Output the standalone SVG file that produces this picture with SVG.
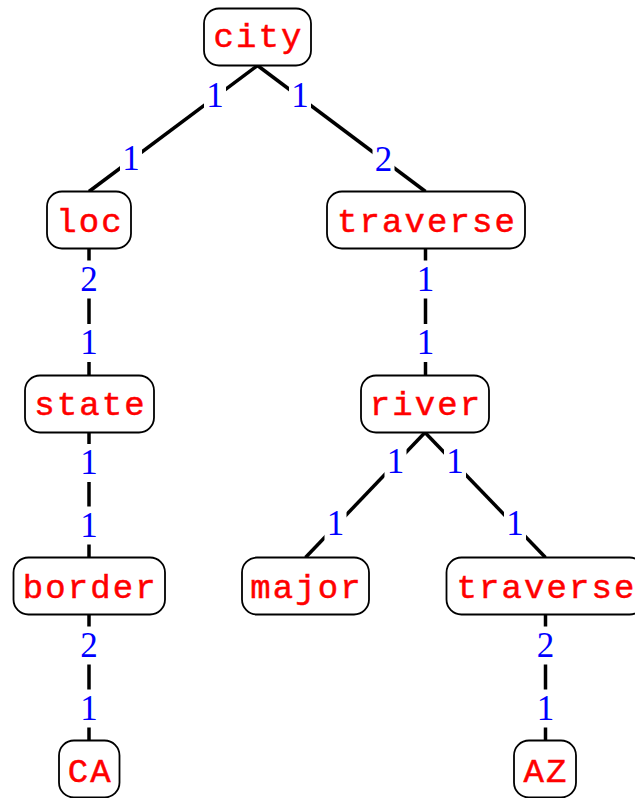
<svg xmlns="http://www.w3.org/2000/svg" width="635" height="798" viewBox="0 0 635 798">
  <style>
    .edge { stroke: #000; stroke-width: 3.5; fill: none; }
    .box { fill: #fff; stroke: #000; stroke-width: 1.8; }
    .name { font-family: "Liberation Mono", "DejaVu Sans Mono", monospace; font-size: 34px; fill: #ff0000; stroke: #ff0000; stroke-width: 0.5; text-anchor: middle; letter-spacing: 2.1px; }
    .lblbg { fill: #fff; }
    .lbl { font-family: "Liberation Serif", "DejaVu Serif", serif; font-size: 35px; fill: #0000ff; text-anchor: middle; }
  </style>
  <defs>
    <rect id="bg" class="lblbg" x="-11" y="-19" width="22" height="38"/>
  </defs>

  <!-- tree edges -->
  <g id="edges">
    <line class="edge" x1="257.5" y1="65.5" x2="89" y2="191.5"/>
    <line class="edge" x1="257.5" y1="65.5" x2="425.5" y2="191.5"/>
    <line class="edge" x1="89" y1="248.5" x2="89" y2="375.5"/>
    <line class="edge" x1="89" y1="432.5" x2="89" y2="557.5"/>
    <line class="edge" x1="89" y1="614.5" x2="89" y2="740.5"/>
    <line class="edge" x1="425.5" y1="248.5" x2="425.5" y2="375.5"/>
    <line class="edge" x1="425" y1="432.5" x2="305.5" y2="557.5"/>
    <line class="edge" x1="425" y1="432.5" x2="545.5" y2="557.5"/>
    <line class="edge" x1="545.5" y1="614.5" x2="545.5" y2="740.5"/>
  </g>

  <!-- edge labels: argument positions at each end -->
  <g id="edge-labels">
    <use href="#bg" x="215" y="96"/><text class="lbl" x="215" y="107">1</text>
    <use href="#bg" x="131" y="159"/><text class="lbl" x="131" y="170">1</text>
    <use href="#bg" x="300" y="96"/><text class="lbl" x="300" y="107">1</text>
    <use href="#bg" x="383.5" y="159"/><text class="lbl" x="383.5" y="170.5">2</text>
    <use href="#bg" x="89" y="279.5"/><text class="lbl" x="89" y="291">2</text>
    <use href="#bg" x="89" y="343"/><text class="lbl" x="89" y="354">1</text>
    <use href="#bg" x="89" y="463"/><text class="lbl" x="89" y="474">1</text>
    <use href="#bg" x="89" y="525.5"/><text class="lbl" x="89" y="536.5">1</text>
    <use href="#bg" x="89" y="645.5"/><text class="lbl" x="89" y="657">2</text>
    <use href="#bg" x="89" y="708.5"/><text class="lbl" x="89" y="719.5">1</text>
    <use href="#bg" x="425.5" y="279.5"/><text class="lbl" x="425.5" y="290.5">1</text>
    <use href="#bg" x="425.5" y="343"/><text class="lbl" x="425.5" y="354">1</text>
    <use href="#bg" x="395.5" y="461.5"/><text class="lbl" x="395.5" y="472.5">1</text>
    <use href="#bg" x="335.5" y="524"/><text class="lbl" x="335.5" y="535">1</text>
    <use href="#bg" x="455" y="461.5"/><text class="lbl" x="455" y="472.5">1</text>
    <use href="#bg" x="515" y="524"/><text class="lbl" x="515" y="535">1</text>
    <use href="#bg" x="545.5" y="645.5"/><text class="lbl" x="545.5" y="657">2</text>
    <use href="#bg" x="545.5" y="708.5"/><text class="lbl" x="545.5" y="719.5">1</text>
  </g>

  <!-- nodes -->
  <g id="city">
    <rect class="box" x="204" y="8.5" width="107" height="57" rx="15"/>
    <text class="name" x="258.5" y="47">city</text>
  </g>
  <g id="loc">
    <rect class="box" x="47" y="191.5" width="84" height="57" rx="15"/>
    <text class="name" x="90" y="231.5">loc</text>
  </g>
  <g id="traverse-1">
    <rect class="box" x="327" y="191.5" width="198" height="57" rx="15"/>
    <text class="name" x="427" y="231.5">traverse</text>
  </g>
  <g id="state">
    <rect class="box" x="25" y="375.5" width="129" height="57" rx="15"/>
    <text class="name" x="90.5" y="415">state</text>
  </g>
  <g id="river">
    <rect class="box" x="361" y="375.5" width="128" height="57" rx="15"/>
    <text class="name" x="426" y="415">river</text>
  </g>
  <g id="border">
    <rect class="box" x="13.5" y="557.5" width="151.5" height="57" rx="15"/>
    <text class="name" x="90.3" y="598">border</text>
  </g>
  <g id="major">
    <rect class="box" x="242" y="557.5" width="127" height="57" rx="15"/>
    <text class="name" x="306.5" y="598">major</text>
  </g>
  <g id="traverse-2">
    <rect class="box" x="446.5" y="557.5" width="198" height="57" rx="15"/>
    <text class="name" x="546.5" y="598">traverse</text>
  </g>
  <g id="CA">
    <rect class="box" x="59" y="740.5" width="60.5" height="57" rx="15"/>
    <text class="name" x="90.3" y="781.5">CA</text>
  </g>
  <g id="AZ">
    <rect class="box" x="514" y="740.5" width="62" height="57" rx="15"/>
    <text class="name" x="546" y="781.5">AZ</text>
  </g>
</svg>
